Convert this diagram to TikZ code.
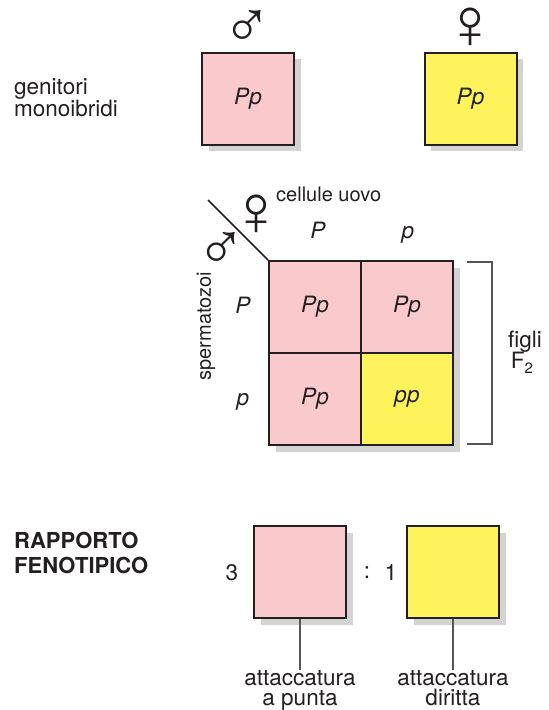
\documentclass[tikz,border=0pt]{standalone}
\usepackage{fontspec}
\setmainfont{TeX Gyre Heros}
\newfontfamily\symfont{Liberation Sans}
\usetikzlibrary{shadows}
\definecolor{pinkbox}{HTML}{F9C9CC}
\definecolor{yellowbox}{HTML}{FFF35C}
\definecolor{shadowgray}{HTML}{D3D3D3}
\definecolor{inkdark}{HTML}{231F20}
\definecolor{linegray}{HTML}{555555}
\newcommand\txtsize{\fontsize{22.5}{20.5}\selectfont}
\newcommand\smallsize{\fontsize{20}{20}\selectfont}
\newcommand\malesym{{\fontsize{66}{66}\selectfont\symfont ♂}}
\newcommand\femalesym{{\fontsize{72}{72}\selectfont\symfont ♀}}
\begin{document}
\begin{tikzpicture}[x=1pt,y=-1pt,
  txt/.style={inner sep=0pt, text=inkdark, font=\txtsize},
  sym/.style={inner sep=0pt, text=inkdark},
  cell/.style={draw=inkdark, line width=2pt, minimum width=92pt, minimum height=92pt,
    inner sep=0pt, text=inkdark, font=\txtsize\itshape},
  box/.style={cell, general shadow={fill=shadowgray, shadow xshift=6.5pt, shadow yshift=-6.5pt}},
  thinline/.style={draw=linegray, line width=1.1pt}
]
\useasboundingbox (0,0) rectangle (549,710);

% ---- parents ----
\node[txt, anchor=base west] (gen1) at (14,94.5) {genitori};
\node[txt, anchor=base west] (gen2) at (14,116.5) {monoibridi};
\node[box, fill=pinkbox] (male) at (248,98.5) {Pp};
\node[box, fill=yellowbox] (female) at (470.5,98.5) {Pp};
\node[sym] (msym) at (247.5,29) {\malesym};
\node[sym] (fsym) at (470,28) {\femalesym};

% ---- Punnett square ----
\fill[shadowgray] (275.5,267.5) rectangle (459.5,451.5);
\node[cell, fill=pinkbox] (c11) at (315,307) {Pp};
\node[cell, fill=pinkbox] (c12) at (407,307) {Pp};
\node[cell, fill=pinkbox] (c21) at (315,399) {Pp};
\node[cell, fill=yellowbox] (c22) at (407,399) {pp};

\coordinate (diag) at (208,200);
\draw[inkdark, line width=1.6pt] (diag) -- (c11.north west);
\node[sym] (fsym2) at (256,215) {\femalesym};
\node[sym] (msym2) at (221.5,251) {\malesym};
\node[txt, font=\smallsize, anchor=base west] (cell) at (276,201) {cellule uovo};
\node[txt, font=\txtsize\itshape, anchor=base] (colP) at (318,238) {P};
\node[txt, font=\txtsize\itshape, anchor=base] (colp) at (408,238) {p};
\node[txt, font=\txtsize\itshape, anchor=base] (rowP) at (243,313) {P};
\node[txt, font=\txtsize\itshape, anchor=base] (rowp) at (243,405) {p};
\node[txt, font=\smallsize, rotate=90] (sperm) at (206,326) {spermatozoi};

% bracket
\coordinate (bt1) at (467,262);
\coordinate (bt2) at (492,262);
\coordinate (bb2) at (492,444);
\coordinate (bb1) at (467,444);
\draw[thinline] (bt1) -- (bt2) -- (bb2) -- (bb1);
\node[txt, anchor=base] (figli) at (525,347) {figli};
\node[txt, anchor=base] (f2) at (522,368) {F\raisebox{-0.25em}{\fontsize{15}{15}\selectfont 2}};

% ---- phenotypic ratio ----
\node[txt, font=\fontsize{22}{20}\selectfont\bfseries, anchor=base west] (rap1) at (14,548) {RAPPORTO};
\node[txt, font=\fontsize{22}{20}\selectfont\bfseries, anchor=base west] (rap2) at (14,573) {FENOTIPICO};
\node[box, fill=pinkbox] (b1) at (300,572) {};
\node[box, fill=yellowbox] (b2) at (453,572) {};
\node[txt] (three) at (232,573) {3};
\node[txt] (colon) at (367,573) {:};
\node[txt] (one) at (391,573) {1};
\node[txt, align=center, anchor=north] (l1) at (300,670) {attaccatura\\a punta};
\node[txt, align=center, anchor=north] (l2) at (453,670) {attaccatura\\diritta};
\draw[thinline] (b1.south) -- (l1.north);
\draw[thinline] (b2.south) -- (l2.north);
\end{tikzpicture}
\end{document}
